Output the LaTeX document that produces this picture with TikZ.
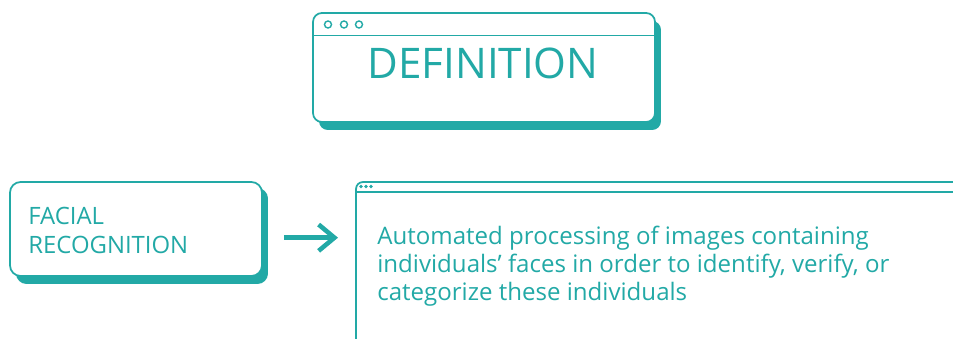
\documentclass[tikz,border=0pt]{standalone}
\usepackage{fontspec}
\setmainfont{Open Sans}
\usetikzlibrary{arrows.meta,shadows,positioning}

\definecolor{winteal}{HTML}{22A9A6}

\tikzset{
  winbox/.style={draw=winteal, line width=1pt, fill=white, rounded corners=5pt,
    drop shadow={shadow xshift=0.12cm, shadow yshift=-0.16cm, fill=winteal, opacity=1}},
  wintext/.style={text=winteal, inner sep=0pt, align=left},
  flow/.style={draw=winteal, line width=2.8pt, -{Straight Barb[length=9pt, width=15pt, line width=2.6pt]}},
}

\begin{document}
\begin{tikzpicture}[x=0.02cm, y=-0.02cm]
  \useasboundingbox (0,0) rectangle (953,338);

  % top window with the title
  \node[winbox, minimum width=6.84cm, minimum height=2.18cm] (def) at (484,67.5) {};
  \draw[winteal, line width=0.6pt] (def.west |- 0,35.5) -- (def.east |- 0,35.5);
  \foreach \x in {328,344,359}
    \draw[winteal, line width=0.8pt] (\x,24.5) circle (3.5);
  \node[wintext, font=\fontsize{24}{26}\selectfont] (title) at (483,63) {DEFINITION};

  % term on the left
  \node[winbox, rounded corners=6pt, minimum width=5.04cm, minimum height=1.88cm,
    drop shadow={shadow xshift=0.12cm, shadow yshift=-0.12cm, fill=winteal, opacity=1}] (term) at (136,229) {};
  % base anchor sits on the last line
  \node[wintext, anchor=base west, font=\fontsize{13.6}{16.4}\selectfont] (termtext) at (28,253)
    {FACIAL\\RECOGNITION};

  % description window, running off the page
  \draw[winteal, line width=1pt, rounded corners=4pt] (356,345) |- (960,182);
  \coordinate (desc) at (356,237.7);
  \draw[winteal, line width=0.8pt] (356,192) -- (960,192);
  \foreach \x in {361,366,371}
    \fill[winteal] (\x,186.5) circle (1.8);
  \node[wintext, anchor=base west, font=\fontsize{13.7}{15.9}\selectfont] (desctext) at (377,300)
    {Automated processing of images containing\\individuals’ faces in order to identify, verify, or\\categorize these individuals};

  \coordinate (from) at (term.east |- desc);
  \draw[flow, shorten <=21*0.02cm, shorten >=18*0.02cm] (from) -- (desc);
\end{tikzpicture}
\end{document}
